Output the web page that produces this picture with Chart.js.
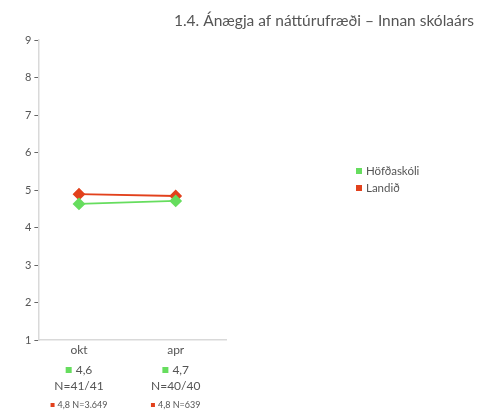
<!DOCTYPE html>
<html>
<head>
<meta charset="utf-8">
<script src="https://cdn.jsdelivr.net/npm/chart.js@4/dist/chart.umd.min.js"></script>
<style>
  body { margin: 0; background: #fff; }
  #wrap { width: 488px; height: 414px; }
</style>
</head>
<body>
<div id="wrap"><canvas id="chart" width="488" height="414"></canvas></div>
<script>
// data
const months = ['okt', 'apr'];
const schoolValues = [4.63, 4.71];
const nationValues = [4.89, 4.84];
const schoolLabels = ['4,6', '4,7'];
const schoolN = ['N=41/41', 'N=40/40'];
const nationLabels = ['4,8 N=3.649', '4,8 N=639'];
const seriesNames = ['Höfðaskóli', 'Landið'];
const yTicks = [1, 2, 3, 4, 5, 6, 7, 8, 9];

const GREEN = '#66dd5e';
const RED = '#e2411c';
const FONT = 'Lato, "Open Sans", sans-serif';

// draws title, legend and the multi-line category labels
const extrasPlugin = {
    id: 'extras',
    afterDraw(chart) {
        const ctx = chart.ctx;
        const xs = chart.scales.x;
        const bottom = chart.chartArea.bottom;
        ctx.save();
        ctx.textBaseline = 'middle';

        // title
        ctx.fillStyle = '#555';
        ctx.font = '15.5px ' + FONT;
        ctx.textAlign = 'center';
        ctx.fillText('1.4. Ánægja af náttúrufræði – Innan skólaárs', 324, 21);

        // category labels
        months.forEach((m, i) => {
            const cx = xs.getPixelForValue(i);
            ctx.textAlign = 'center';
            ctx.fillStyle = '#555';
            ctx.font = '12px ' + FONT;
            ctx.fillText(m, cx, bottom + 10);

            const w1 = ctx.measureText(schoolLabels[i]).width;
            const start1 = cx - (w1 + 10) / 2;
            ctx.fillStyle = GREEN;
            ctx.fillRect(start1, bottom + 27, 6, 6);
            ctx.fillStyle = '#555';
            ctx.textAlign = 'left';
            ctx.fillText(schoolLabels[i], start1 + 10, bottom + 30);

            ctx.textAlign = 'center';
            ctx.fillText(schoolN[i], cx, bottom + 46);

            ctx.font = '9px ' + FONT;
            const w2 = ctx.measureText(nationLabels[i]).width;
            const start2 = cx - (w2 + 7) / 2;
            ctx.fillStyle = RED;
            ctx.fillRect(start2, bottom + 63, 4, 4);
            ctx.fillStyle = '#555';
            ctx.textAlign = 'left';
            ctx.fillText(nationLabels[i], start2 + 7, bottom + 65);
        });

        // legend
        ctx.font = '11.5px ' + FONT;
        ctx.textAlign = 'left';
        [GREEN, RED].forEach((c, i) => {
            const y = 171 + i * 17;
            ctx.fillStyle = c;
            ctx.fillRect(356, y - 3, 6, 6);
            ctx.fillStyle = '#555';
            ctx.fillText(seriesNames[i], 366, y);
        });
        ctx.restore();
    }
};

new Chart(document.getElementById('chart'), {
    type: 'line',
    data: {
        datasets: [
            {
                label: seriesNames[0],
                data: schoolValues.map((v, i) => ({ x: i, y: v })),
                borderColor: GREEN,
                backgroundColor: GREEN,
                borderWidth: 2,
                pointStyle: 'rectRot',
                pointRadius: 5,
                pointHoverRadius: 5
            },
            {
                label: seriesNames[1],
                data: nationValues.map((v, i) => ({ x: i, y: v })),
                borderColor: RED,
                backgroundColor: RED,
                borderWidth: 2,
                pointStyle: 'rectRot',
                pointRadius: 5,
                pointHoverRadius: 5
            }
        ]
    },
    options: {
        responsive: false,
        animation: false,
        layout: { padding: { top: 40, right: 262, bottom: 74, left: 22 } },
        plugins: {
            legend: { display: false },
            tooltip: { enabled: false }
        },
        scales: {
            x: {
                type: 'linear',
                min: -0.42,
                max: 1.52,
                grid: { display: false, drawTicks: false },
                border: { color: '#d9d9d9', width: 1.5 },
                ticks: { display: false }
            },
            y: {
                min: yTicks[0],
                max: yTicks[yTicks.length - 1],
                afterBuildTicks: (axis) => { axis.ticks = yTicks.map(v => ({ value: v })); },
                grid: { drawOnChartArea: false, tickLength: 4, color: '#666' },
                border: { color: '#d9d9d9', width: 1.5 },
                ticks: {
                    color: '#555',
                    font: { family: FONT, size: 11 },
                    padding: 3
                }
            }
        }
    },
    plugins: [extrasPlugin]
});
</script>
</body>
</html>
